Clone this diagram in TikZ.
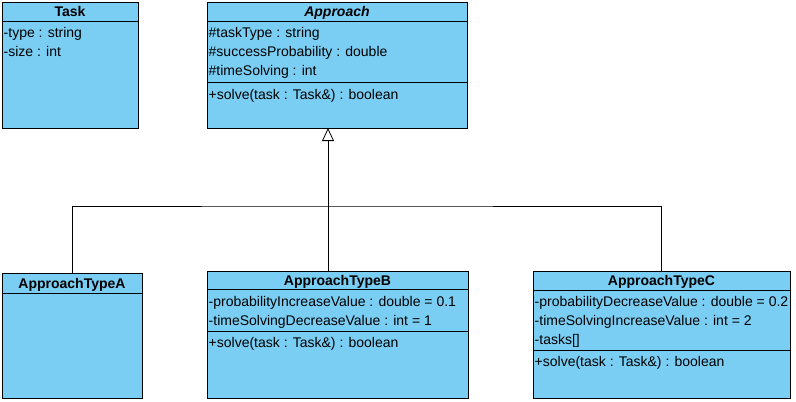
\documentclass[tikz,border=0pt]{standalone}
\usepackage{fontspec}
\setmainfont{Liberation Sans}
\usetikzlibrary{arrows.meta}
\definecolor{clsfill}{RGB}{122,206,244}
\begin{document}
\begin{tikzpicture}[x=1pt,y=-1pt,
  cls/.style={draw=black, fill=clsfill, line width=1pt, anchor=north west, inner sep=0pt, outer sep=0pt},
  attr/.style={anchor=base west, inner sep=0pt, font=\fontsize{14}{16}\selectfont},
  ttl/.style={anchor=base, inner sep=0pt, font=\bfseries\fontsize{14}{16}\selectfont},
  sep/.style={line width=1pt},
  conn/.style={line width=0.8pt}]
\useasboundingbox (0,0) rectangle (796,402);

% Task
\node[cls, minimum width=136pt, minimum height=126pt] (task) at (2,2) {};
\draw[sep] (2,21) -- (138,21);
\node[ttl] (taskT) at (70,16.5) {Task};
\node[attr] (task1) at (3.5,37.5) {-type : string};
\node[attr] (task2) at (3.5,56.5) {-size : int};

% Approach
\node[cls, minimum width=260pt, minimum height=126pt] (app) at (207,2) {};
\draw[sep] (207,21) -- (467,21);
\draw[sep] (207,82) -- (467,82);
\node[ttl, font=\bfseries\itshape\fontsize{14}{16}\selectfont] (appT) at (337,16.5) {Approach};
\node[attr] (app1) at (208.5,37.5) {\#taskType : string};
\node[attr] (app2) at (208.5,56.5) {\#successProbability : double};
\node[attr] (app3) at (208.5,75.5) {\#timeSolving : int};
\node[attr] (app4) at (208.5,99) {+solve(task : Task\&) : boolean};

% ApproachTypeA
\node[cls, minimum width=140pt, minimum height=125pt] (A) at (2,273) {};
\draw[sep] (2,293) -- (142,293);
\node[ttl] (AT) at (72,288) {ApproachTypeA};

% ApproachTypeB
\node[cls, minimum width=261pt, minimum height=127pt] (B) at (207,271) {};
\draw[sep] (207,289.5) -- (468,289.5);
\draw[sep] (207,331) -- (468,331);
\node[ttl] (BT) at (337.5,285) {ApproachTypeB};
\node[attr] (B1) at (208.5,306) {-probabilityIncreaseValue : double = 0.1};
\node[attr] (B2) at (208.5,325) {-timeSolvingDecreaseValue : int = 1};
\node[attr] (B3) at (208.5,347) {+solve(task : Task\&) : boolean};

% ApproachTypeC
\node[cls, minimum width=257pt, minimum height=127pt] (C) at (533,271) {};
\draw[sep] (533,290) -- (790,290);
\draw[sep] (533,350) -- (790,350);
\node[ttl] (CT) at (661.5,285) {ApproachTypeC};
\node[attr] (C1) at (534.5,306.5) {-probabilityDecreaseValue : double = 0.2};
\node[attr] (C2) at (534.5,325.5) {-timeSolvingIncreaseValue : int = 2};
\node[attr] (C3) at (534.5,344.5) {-tasks[]};
\node[attr] (C4) at (534.5,366.5) {+solve(task : Task\&) : boolean};

% generalization
\coordinate (bus) at (328,206);
\draw[conn] (A.north) |- (bus) -| (C.north);
\draw[conn, -{Triangle[open, length=13pt, width=12pt, line width=0.8pt]}] (B.north -| bus) -- (app.south -| bus);
\end{tikzpicture}
\end{document}
